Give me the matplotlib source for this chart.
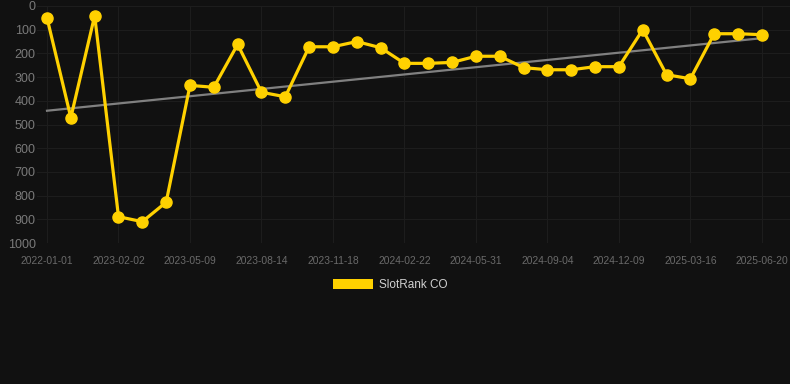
import numpy as np
import matplotlib.pyplot as plt
from matplotlib.patches import Patch

plt.rcParams['font.family'] = ['Liberation Sans', 'DejaVu Sans']

# one label per point, only every third one shown on the axis
dates = ['2022-01-01', '2022-11-30', '2023-01-01', '2023-02-02', '2023-03-06', '2023-04-07',
         '2023-05-09', '2023-06-10', '2023-07-13', '2023-08-14', '2023-09-15', '2023-10-17',
         '2023-11-18', '2023-12-20', '2024-01-21', '2024-02-22', '2024-03-25', '2024-04-28',
         '2024-05-31', '2024-07-02', '2024-08-03', '2024-09-04', '2024-10-06', '2024-11-07',
         '2024-12-09', '2025-01-10', '2025-02-12', '2025-03-16', '2025-04-17', '2025-05-19',
         '2025-06-20']
rank = [50, 471, 41, 889, 910, 828, 335, 343, 162, 364, 383, 172, 172, 150, 176, 242,
        242, 238, 212, 212, 260, 269, 269, 256, 256, 100, 290, 307, 117, 117, 121]

bg = '#111111'
yellow = '#FFD100'

fig = plt.figure(figsize=(7.9, 3.84), dpi=100, facecolor=bg)
ax = fig.add_axes([37 / 790, 1 - 243 / 384, 753 / 790, 237 / 384])
ax.set_facecolor(bg)

x = np.arange(len(rank))
y = np.array(rank)

# trend line (least squares)
k, b = np.polyfit(x, y, 1)
ax.plot(x, k * x + b, color='#808080', lw=1.6, zorder=2)

ax.plot(x, y, color=yellow, lw=2.3, marker='o', markersize=8,
        clip_on=False, zorder=3)

ax.set_xlim(-0.42, 31.18)
ax.set_ylim(1000, 0)
ax.set_yticks(range(0, 1001, 100))
ax.set_xticks(x[::3])
ax.set_xticklabels(dates[::3])

ax.grid(True, color='#1d1d1d', lw=0.8)
ax.set_axisbelow(True)
for s in ax.spines.values():
    s.set_visible(False)
ax.tick_params(axis='y', length=0, labelsize=9, labelcolor='#7a7a7a', pad=1)
ax.tick_params(axis='x', length=0, labelsize=7.4, labelcolor='#6a6a6a', pad=9)

handle = Patch(facecolor=yellow, edgecolor='none')
fig.legend([handle], ['SlotRank CO'], loc='center', bbox_to_anchor=(390 / 790, 1 - 285 / 384),
           frameon=False, fontsize=8.5, labelcolor='#d0d0d0',
           handlelength=3.4, handleheight=1.0, handletextpad=0.5)

fig.savefig('out.png', dpi=100, facecolor=bg)
